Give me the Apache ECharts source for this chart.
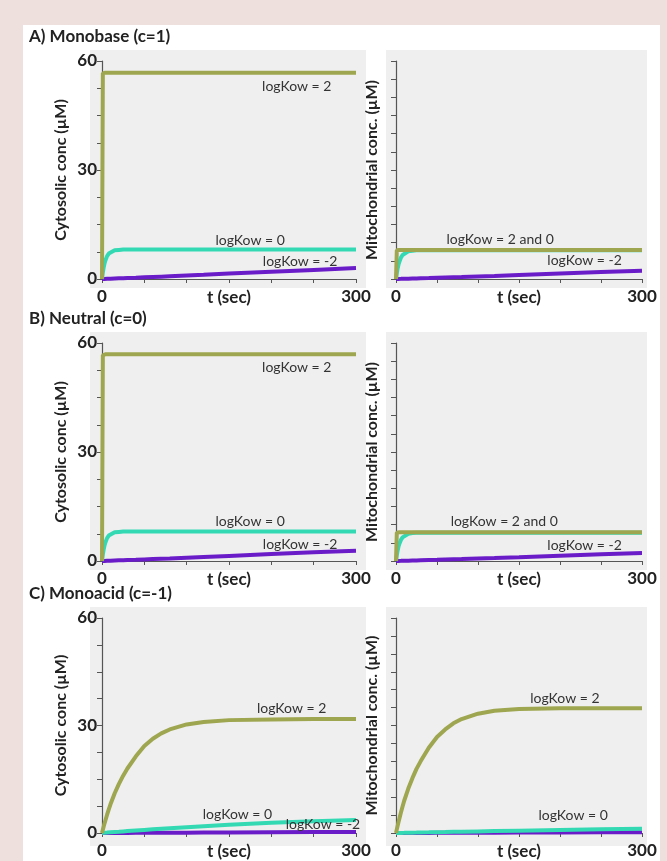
<!DOCTYPE html>
<html>
<head>
<meta charset="utf-8">
<script src="https://cdn.jsdelivr.net/npm/echarts@6/dist/echarts.min.js"></script>
<style>
html,body{margin:0;padding:0;background:#eee1dd;}
#c{width:667px;height:861px;}
</style>
</head>
<body>
<div id="c"></div>
<script>
// ---- data ----
const times = [0,1,2,3,4,6,8,10,15,20,25,30,40,50,60,70,80,100,120,150,200,250,300];
const panelTitles = ['A) Monobase (c=1)', 'B) Neutral (c=0)', 'C) Monoacid (c=-1)'];
const yTickLabels = [0, 30, 60];
const xTickLabels = [0, 300];
const seriesNames = ['logKow = -2', 'logKow = 0', 'logKow = 2'];

// Panel A – cytosolic
const A_cyto_km2 = [0,0.01,0.02,0.03,0.04,0.06,0.08,0.1,0.14,0.18,0.22,0.27,0.35,0.45,0.55,0.65,0.75,0.95,1.15,1.5,2.0,2.5,3.0];
const A_cyto_k0  = [0,1.8,3.2,4.3,5.1,6.3,7.0,7.4,7.9,8.0,8.1,8.1,8.1,8.1,8.1,8.1,8.1,8.1,8.1,8.1,8.1,8.1,8.1];
const A_cyto_k2  = [0,56.6,56.8,56.8,56.8,56.8,56.8,56.8,56.8,56.8,56.8,56.8,56.8,56.8,56.8,56.8,56.8,56.8,56.8,56.8,56.8,56.8,56.8];
// Panel A – mitochondrial
const A_mito_km2 = [0,0,0.01,0.02,0.03,0.04,0.05,0.07,0.1,0.13,0.16,0.2,0.26,0.33,0.4,0.47,0.54,0.7,0.85,1.1,1.5,1.9,2.3];
const A_mito_k0  = [0,1.6,2.9,3.9,4.7,5.9,6.6,7.1,7.6,7.8,7.9,7.9,7.9,7.9,7.9,7.9,7.9,7.9,7.9,7.9,7.9,7.9,7.9];
const A_mito_k2  = [0,7.9,8.0,8.0,8.0,8.0,8.0,8.0,8.0,8.0,8.0,8.0,8.0,8.0,8.0,8.0,8.0,8.0,8.0,8.0,8.0,8.0,8.0];
// Panel B – cytosolic
const B_cyto_km2 = [0,0.01,0.02,0.03,0.04,0.06,0.08,0.1,0.14,0.18,0.22,0.26,0.34,0.43,0.52,0.61,0.7,0.9,1.1,1.4,1.9,2.4,2.8];
const B_cyto_k0  = [0,1.8,3.2,4.3,5.1,6.3,7.0,7.4,7.9,8.0,8.1,8.1,8.1,8.1,8.1,8.1,8.1,8.1,8.1,8.1,8.1,8.1,8.1];
const B_cyto_k2  = [0,56.6,56.9,56.9,56.9,56.9,56.9,56.9,56.9,56.9,56.9,56.9,56.9,56.9,56.9,56.9,56.9,56.9,56.9,56.9,56.9,56.9,56.9];
// Panel B – mitochondrial
const B_mito_km2 = [0,0,0.01,0.02,0.03,0.04,0.05,0.07,0.1,0.13,0.16,0.2,0.26,0.32,0.39,0.46,0.53,0.68,0.82,1.05,1.45,1.85,2.2];
const B_mito_k0  = [0,1.6,2.9,3.9,4.7,5.8,6.5,7.0,7.5,7.7,7.8,7.8,7.8,7.8,7.8,7.8,7.8,7.8,7.8,7.8,7.8,7.8,7.8];
const B_mito_k2  = [0,7.8,7.9,7.9,7.9,7.9,7.9,7.9,7.9,7.9,7.9,7.9,7.9,7.9,7.9,7.9,7.9,7.9,7.9,7.9,7.9,7.9,7.9];
// Panel C – cytosolic
const C_cyto_km2 = [0,0,0,0,0,0,0,0.01,0.01,0.02,0.02,0.03,0.04,0.05,0.06,0.07,0.08,0.1,0.12,0.15,0.2,0.25,0.3];
const C_cyto_k0  = [0,0.02,0.04,0.06,0.08,0.11,0.15,0.19,0.28,0.36,0.45,0.54,0.71,0.87,1.03,1.18,1.33,1.62,1.9,2.3,2.85,3.3,3.6];
const C_cyto_k2  = [0,0.9,1.8,2.7,3.5,5.1,6.6,8.0,11.1,13.7,16.0,18.0,21.4,24.3,26.3,27.8,28.9,30.3,31.0,31.5,31.7,31.8,31.8];
// Panel C – mitochondrial
const C_mito_km2 = [0,0,0,0,0,0,0,0,0.01,0.01,0.01,0.02,0.03,0.04,0.05,0.06,0.06,0.08,0.1,0.12,0.16,0.19,0.22];
const C_mito_k0  = [0,0.01,0.01,0.02,0.02,0.03,0.04,0.05,0.08,0.1,0.12,0.15,0.19,0.24,0.28,0.33,0.37,0.45,0.53,0.65,0.85,1.05,1.2];
const C_mito_k2  = [0,1.0,2.0,3.0,3.9,5.7,7.4,9.0,12.4,15.3,17.9,20.0,23.8,26.8,28.9,30.6,31.8,33.3,34.1,34.6,34.8,34.8,34.8];

// annotations [t, value, text]
const A_cyto_notes = [[230,53.0,'logKow = 2'],[175,10.6,'logKow = 0'],[234,4.8,'logKow = -2']];
const A_mito_notes = [[127,10.8,'logKow = 2 and 0'],[230,5.0,'logKow = -2']];
const B_cyto_notes = [[230,53.3,'logKow = 2'],[175,10.8,'logKow = 0'],[234,4.6,'logKow = -2']];
const B_mito_notes = [[132,10.9,'logKow = 2 and 0'],[230,4.3,'logKow = -2']];
const C_cyto_notes = [[224,34.8,'logKow = 2'],[160,5.3,'logKow = 0'],[261,2.4,'logKow = -2']];
const C_mito_notes = [[206,37.4,'logKow = 2'],[216,4.8,'logKow = 0']];

// ---- layout ----
const colors = ['#6a1cc8', '#33d9b3', '#9ea64f'];
const rowsTop = [61, 343, 618];
const rowsH = [218, 218, 219];
const leftG = {left: 102, width: 254};
const rightG = {left: 396, width: 246};

const panels = [
  {row:0, side:'L', data:[A_cyto_km2, A_cyto_k0, A_cyto_k2], notes:A_cyto_notes},
  {row:0, side:'R', data:[A_mito_km2, A_mito_k0, A_mito_k2], notes:A_mito_notes},
  {row:1, side:'L', data:[B_cyto_km2, B_cyto_k0, B_cyto_k2], notes:B_cyto_notes},
  {row:1, side:'R', data:[B_mito_km2, B_mito_k0, B_mito_k2], notes:B_mito_notes},
  {row:2, side:'L', data:[C_cyto_km2, C_cyto_k0, C_cyto_k2], notes:C_cyto_notes},
  {row:2, side:'R', data:[C_mito_km2, C_mito_k0, C_mito_k2], notes:C_mito_notes}
];

const FONT = 'Lato, "Open Sans", sans-serif';
const axisColor = '#555';
const grid = [], xAxis = [], yAxis = [], series = [];
const graphic = [
  {type:'rect', shape:{x:23, y:25, width:637, height:840}, style:{fill:'#ffffff'}, z:-10, silent:true}
];

panels.forEach((p, i) => {
  const g = p.side === 'L' ? leftG : rightG;
  grid.push({left:g.left, width:g.width, top:rowsTop[p.row], height:rowsH[p.row]});
  const gx = p.side === 'L' ? 90 : 386;
  const gw = p.side === 'L' ? 276 : 261;
  graphic.push({type:'rect', shape:{x:gx, y:rowsTop[p.row]-11, width:gw, height:rowsH[p.row]+20},
    style:{fill:'#efefef'}, z:-9, silent:true});
  xAxis.push({
    gridIndex:i, type:'value', min:0, max:300, interval:50,
    name:'t (sec)', nameLocation:'middle', nameGap:10, nameMoveOverlap:false,
    nameTextStyle:{fontFamily:FONT, fontWeight:'bold', fontSize:17, color:'#222', verticalAlign:'top'},
    axisLine:{onZero:false, lineStyle:{color:axisColor, width:1.2}},
    axisTick:{show:true, inside:false, length:4, lineStyle:{color:axisColor}},
    axisLabel:{fontFamily:FONT, fontWeight:'bold', fontSize:17, color:'#222', margin:9,
      formatter: v => xTickLabels.includes(v) ? String(v) : ''},
    splitLine:{show:false}
  });
  yAxis.push({
    gridIndex:i, type:'value', min:0, max:60, interval: p.side === 'L' ? 7.5 : 5,
    name: p.side === 'L' ? 'Cytosolic conc (µM)' : 'Mitochondrial conc. (µM)',
    nameLocation:'middle', nameGap: p.side === 'L' ? 33 : 16, nameMoveOverlap:false,
    nameTextStyle:{fontFamily:FONT, fontWeight:'bold', fontSize:16, color:'#222'},
    axisLine:{show:true, lineStyle:{color:axisColor, width:1.2}},
    axisTick:{show:true, inside:false, length:5, lineStyle:{color:axisColor}},
    axisLabel:{show: p.side === 'L', fontFamily:FONT, fontWeight:'bold', fontSize:17, color:'#222', margin:5,
      formatter: v => yTickLabels.includes(v) ? String(v) : ''},
    splitLine:{show:false}
  });
  p.data.forEach((vals, k) => {
    const s = {
      type:'line', name:seriesNames[k], xAxisIndex:i, yAxisIndex:i,
      data: times.map((t, j) => [t, vals[j]]),
      showSymbol:false, symbol:'none', smooth:false,
      lineStyle:{color:colors[k], width:4}, z:2+k, animation:false
    };
    if (k === 2) {
      s.markPoint = {
        symbol:'circle', symbolSize:0, animation:false,
        label:{show:true, position:'inside', fontFamily:FONT, fontSize:14, color:'#333',
          formatter: d => d.name},
        data: p.notes.map(n => ({coord:[n[0], n[1]], name:n[2], value:n[2]}))
      };
    }
    series.push(s);
  });
});

panelTitles.forEach((t, r) => {
  graphic.push({type:'text', left:29, top:rowsTop[r]-33,
    style:{text:t, font:'bold 17px ' + FONT, fill:'#222'}, z:5});
});

const chart = echarts.init(document.getElementById('c'), null, {renderer:'canvas'});
chart.setOption({
  animation:false,
  backgroundColor:'transparent',
  grid, xAxis, yAxis, series, graphic
});
</script>
</body>
</html>
